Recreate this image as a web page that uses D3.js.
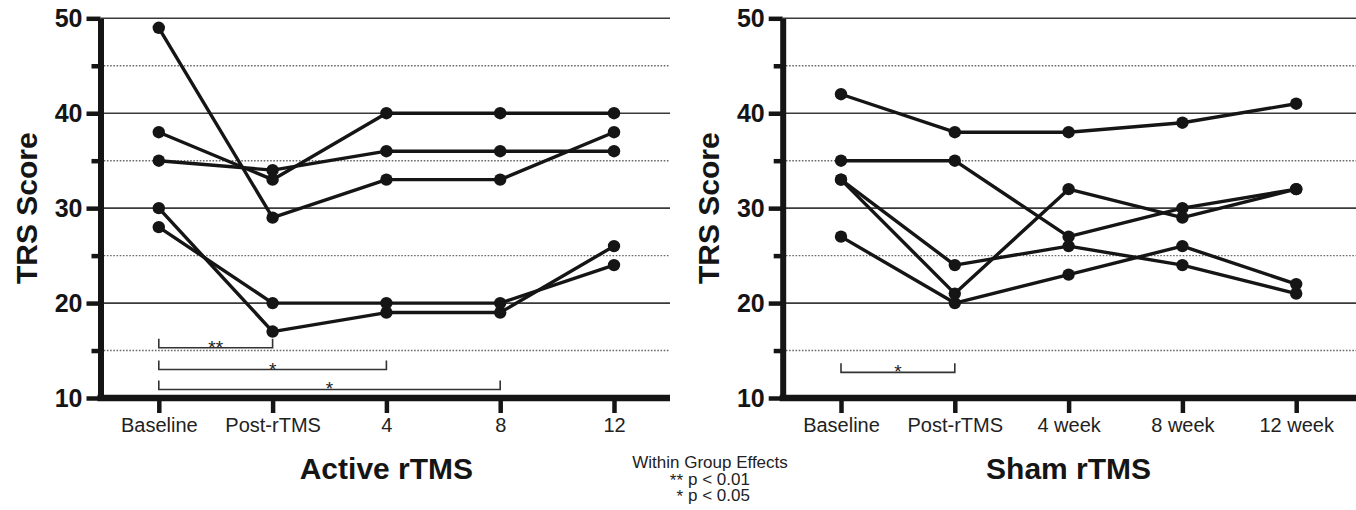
<!DOCTYPE html>
<html>
<head>
<meta charset="utf-8">
<script src="https://cdn.jsdelivr.net/npm/d3@7"></script>
<style>
  html, body { margin: 0; padding: 0; background: #fff; }
  svg { display: block; font-family: "Liberation Sans", Arial, sans-serif; }
</style>
</head>
<body>
<svg id="chart" width="1356" height="510"></svg>
<script>
// ─── Data ─────────────────────────────────────────────────────

const activeTimepoints = ['Baseline', 'Post-rTMS', '4', '8', '12'];
const shamTimepoints = ['Baseline', 'Post-rTMS', '4 week', '8 week', '12 week'];

// one row per subject, one value per timepoint
const activeScores = [
    [49, 29, 33, 33, 38],
    [38, 33, 40, 40, 40],
    [35, 34, 36, 36, 36],
    [30, 17, 19, 19, 26],
    [28, 20, 20, 20, 24]
];
const shamScores = [
    [42, 38, 38, 39, 41],
    [35, 35, 27, 30, 32],
    [33, 24, 26, 24, 21],
    [33, 21, 32, 29, 32],
    [27, 20, 23, 26, 22]
];

const yMajorTicks = [10, 20, 30, 40, 50];
const yMinorTicks = [15, 25, 35, 45];

// significance brackets: timepoint indices, label, height in score units
const activeBrackets = [
    { from: 0, to: 1, label: '**', level: 15.3 },
    { from: 0, to: 2, label: '*', level: 13.0 },
    { from: 0, to: 3, label: '*', level: 10.9 }
];
const shamBrackets = [
    { from: 0, to: 1, label: '*', level: 12.7 }
];

const legendTitle = 'Within Group Effects';
const legendRows = [['**', 'p < 0.01'], ['*', 'p < 0.05']];

// ─── Layout ───────────────────────────────────────────────────

const INK = '#151515';
const Y_TOP = 18.3;
const Y_BOTTOM = 398;
const STEP = 113.8;
const FIRST_OFFSET = 58.3;

const svg = d3.select('#chart');

function drawPanel(axisX, rightEdge, timepoints, scores, brackets, title) {
    const g = svg.append('g');

    const y = d3.scaleLinear().domain([10, 50]).range([Y_BOTTOM, Y_TOP]);
    const x = d3.scalePoint()
        .domain(timepoints)
        .range([axisX + FIRST_OFFSET, axisX + FIRST_OFFSET + STEP * (timepoints.length - 1)]);

    // gridlines
    g.selectAll('line.major')
        .data(yMajorTicks.filter(v => v > 10))
        .enter().append('line')
        .attr('x1', axisX).attr('x2', rightEdge)
        .attr('y1', d => y(d)).attr('y2', d => y(d))
        .attr('stroke', '#3a3a3a').attr('stroke-width', 1.6);

    g.selectAll('line.minor')
        .data(yMinorTicks)
        .enter().append('line')
        .attr('x1', axisX).attr('x2', rightEdge)
        .attr('y1', d => y(d)).attr('y2', d => y(d))
        .attr('stroke', '#6a6a6a').attr('stroke-width', 1.4)
        .attr('stroke-dasharray', '1.6,1.6');

    // y axis, major and minor ticks
    const yAxis = g.append('g')
        .attr('transform', `translate(${axisX},0)`)
        .call(d3.axisLeft(y).tickValues(yMajorTicks).tickSize(14).tickSizeOuter(0).tickPadding(4));
    yAxis.select('.domain').attr('stroke', INK).attr('stroke-width', 6);
    yAxis.selectAll('.tick line').attr('stroke', INK).attr('stroke-width', 4.5);
    yAxis.selectAll('.tick text')
        .attr('fill', INK).attr('font-size', 25).attr('font-weight', 'bold')
        .attr('font-family', '"Liberation Sans", Arial, sans-serif');

    const yMinor = g.append('g')
        .attr('transform', `translate(${axisX},0)`)
        .call(d3.axisLeft(y).tickValues(yMinorTicks).tickSize(9).tickFormat(''));
    yMinor.select('.domain').remove();
    yMinor.selectAll('.tick line').attr('stroke', INK).attr('stroke-width', 4.5);

    // x axis
    const xAxis = g.append('g')
        .attr('transform', `translate(0,${Y_BOTTOM})`)
        .call(d3.axisBottom(x).tickSize(15).tickSizeOuter(0).tickPadding(5));
    xAxis.select('.domain').remove();
    xAxis.selectAll('.tick line').attr('stroke', INK).attr('stroke-width', 4.5);
    xAxis.selectAll('.tick text')
        .attr('fill', '#222').attr('font-size', 20)
        .attr('font-family', '"Liberation Sans", Arial, sans-serif');
    g.append('line')
        .attr('x1', axisX - 3).attr('x2', rightEdge)
        .attr('y1', Y_BOTTOM).attr('y2', Y_BOTTOM)
        .attr('stroke', INK).attr('stroke-width', 6.5);

    // y label
    g.append('text')
        .attr('transform', `translate(${axisX - 63.5},${(Y_TOP + Y_BOTTOM) / 2}) rotate(-90)`)
        .attr('text-anchor', 'middle')
        .attr('font-size', 30).attr('font-weight', 'bold').attr('fill', INK)
        .text('TRS Score');

    // panel title
    g.append('text')
        .attr('x', x(timepoints[2])).attr('y', 479)
        .attr('text-anchor', 'middle')
        .attr('font-size', 30).attr('font-weight', 'bold').attr('fill', INK)
        .text(title);

    // significance brackets
    const br = g.selectAll('g.bracket')
        .data(brackets)
        .enter().append('g');
    br.append('path')
        .attr('d', d => {
            const x0 = x(timepoints[d.from]), x1 = x(timepoints[d.to]), yy = y(d.level);
            return `M${x0},${yy - 9}V${yy}H${x1}V${yy - 9}`;
        })
        .attr('fill', 'none').attr('stroke', '#333').attr('stroke-width', 1.6);
    br.append('text')
        .attr('x', d => (x(timepoints[d.from]) + x(timepoints[d.to])) / 2)
        .attr('y', d => y(d.level) + 6)
        .attr('text-anchor', 'middle')
        .attr('font-size', 19).attr('fill', '#222')
        .text(d => d.label);

    // subject lines and points
    const line = d3.line()
        .x((d, i) => x(timepoints[i]))
        .y(d => y(d));

    g.selectAll('path.subject')
        .data(scores)
        .enter().append('path')
        .attr('d', line)
        .attr('fill', 'none').attr('stroke', INK)
        .attr('stroke-width', 3.4).attr('stroke-linejoin', 'round');

    const pts = [];
    scores.forEach(row => row.forEach((v, i) => pts.push({ i, v })));
    g.selectAll('circle.pt')
        .data(pts)
        .enter().append('circle')
        .attr('cx', d => x(timepoints[d.i]))
        .attr('cy', d => y(d.v))
        .attr('r', 6.2)
        .attr('fill', INK);
}

drawPanel(100.5, 670, activeTimepoints, activeScores, activeBrackets, 'Active rTMS');
drawPanel(782.7, 1356, shamTimepoints, shamScores, shamBrackets, 'Sham rTMS');

// ─── Legend ───────────────────────────────────────────────────

const legend = svg.append('g').attr('fill', '#222').attr('font-size', 17);
legend.append('text')
    .attr('x', 710).attr('y', 468)
    .attr('text-anchor', 'middle')
    .text(legendTitle);
legendRows.forEach((r, i) => {
    const yy = 484.5 + i * 16.5;
    legend.append('text')
        .attr('x', 683).attr('y', yy + 1)
        .attr('text-anchor', 'end')
        .text(r[0]);
    legend.append('text')
        .attr('x', 688).attr('y', yy)
        .text(r[1]);
});
</script>
</body>
</html>
